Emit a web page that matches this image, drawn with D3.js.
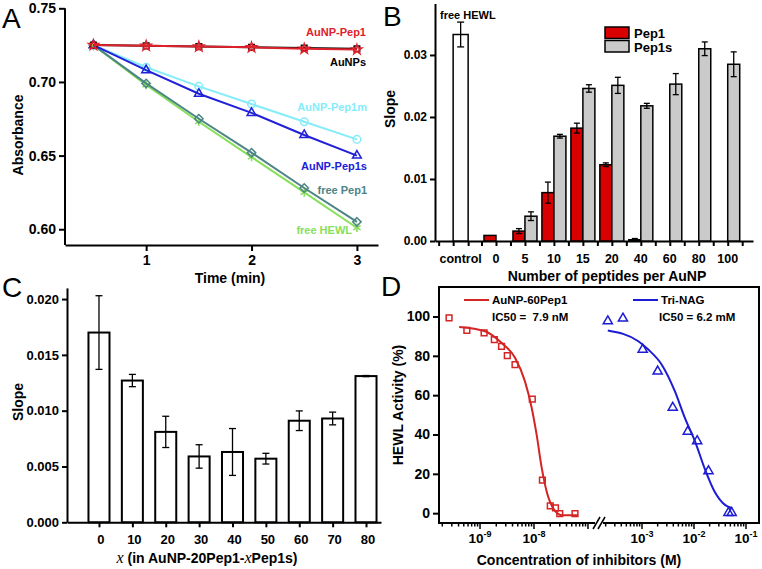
<!DOCTYPE html>
<html><head><meta charset="utf-8">
<script src="https://cdn.jsdelivr.net/npm/d3@7"></script>
<style>
body{margin:0;background:#fff;}
svg{display:block;font-family:"Liberation Sans",Arial,Helvetica,sans-serif;}
</style></head><body>
<svg id="c" width="762" height="569"></svg>
<script>
// ---------- Panel A data ----------
const timeA = [0.5, 1, 1.5, 2, 2.5, 3];
const absAuNPs      = [0.725, 0.7245, 0.724, 0.7235, 0.723, 0.7225];
const absAuNPPep1   = [0.725, 0.7245, 0.724, 0.7235, 0.7225, 0.722];
const absAuNPPep1m  = [0.725, 0.710, 0.697, 0.685, 0.673, 0.661];
const absAuNPPep1s  = [0.725, 0.708, 0.692, 0.679, 0.664, 0.650];
const absFreePep1   = [0.725, 0.699, 0.675, 0.652, 0.628, 0.605];
const absFreeHEWL   = [0.725, 0.698, 0.673, 0.649, 0.625, 0.601];
const ticksAy = [0.60, 0.65, 0.70, 0.75];
const ticksAx = [1, 2, 3];

// ---------- Panel B data ----------
const controlLabel = "control";
const controlSlope = 0.0333, controlErr = 0.0020;
const catsB = ["0", "5", "10", "15", "20", "40", "60", "80", "100"];
const pep1Slope  = [0.0009, 0.0016, 0.0078, 0.0182, 0.0123, 0.0002, null, null, null];
const pep1Err    = [0.0001, 0.0004, 0.0017, 0.0008, 0.0003, 0.0002, null, null, null];
const pep1sSlope = [null, 0.0040, 0.0169, 0.0246, 0.0251, 0.0218, 0.0253, 0.0310, 0.0285];
const pep1sErr   = [null, 0.0007, 0.0003, 0.0006, 0.0013, 0.0004, 0.0017, 0.0011, 0.0020];
const ticksBy = [0, 0.01, 0.02, 0.03];

// ---------- Panel C data ----------
const catsC = ["0", "10", "20", "30", "40", "50", "60", "70", "80"];
const slopeC = [0.0170, 0.0127, 0.0081, 0.0059, 0.0063, 0.0057, 0.0091, 0.0093, 0.0131];
const errC   = [0.0033, 0.00055, 0.0014, 0.00105, 0.0021, 0.00048, 0.00088, 0.00057, 0.00005];
const ticksCy = [0, 0.005, 0.010, 0.015, 0.020];

// ---------- Panel D data ----------
const pepConc = [2.67e-10, 5.7e-10, 1.19e-9, 1.84e-9, 2.5e-9, 3.2e-9, 4.45e-9, 9.3e-9, 1.43e-8, 2.0e-8, 2.5e-8, 3.0e-8, 5.75e-8];
const pepAct  = [99.3, 93, 91.7, 88.3, 84.8, 80.1, 75.5, 58, 16.8, 3.7, 2.7, -0.2, -0.2];
const pepFitConc = [4.1e-10, 1.24e-9, 2.5e-9, 4.45e-9, 6.8e-9, 9.05e-9, 1.12e-8, 1.39e-8, 1.72e-8, 2.28e-8, 3.26e-8, 6.5e-8];
const pepFitAct  = [94.7, 92.5, 86.6, 79, 67, 53.6, 39.8, 23, 10.9, 2.4, -1, -1];
const nagConc = [2.2e-4, 4.3e-4, 1.03e-3, 2.0e-3, 3.9e-3, 7.6e-3, 1.15e-2, 1.9e-2, 4.6e-2, 5.3e-2];
const nagAct  = [97.6, 99, 83.2, 72.1, 53.7, 41.5, 36.7, 21.4, 0.2, 0.2];
const nagFitConc = [2.2e-4, 8.5e-4, 1.32e-3, 2.4e-3, 4.3e-3, 6.7e-3, 1.05e-2, 1.6e-2, 2.5e-2, 4.0e-2, 5.3e-2];
const nagFitAct  = [92.9, 87.4, 83.2, 75.5, 61.9, 48.3, 36.4, 22.8, 10.9, 4.1, 2.7];
const ticksDy = [0, 20, 40, 60, 80, 100];
const majorDleft = [-9, -8];
const majorDright = [-3, -2, -1];

const svg = d3.select("#c");
const BOLD = "bold";

function styleAxis(g, fs) {
  g.select(".domain").attr("stroke", "#000").attr("stroke-width", 2);
  g.selectAll(".tick line").attr("stroke", "#000").attr("stroke-width", 2);
  g.selectAll(".tick text").attr("font-size", fs).attr("font-weight", BOLD).attr("fill", "#000")
    .attr("font-family", "Liberation Sans, Arial, sans-serif");
}
function panelLetter(t, x, y) {
  svg.append("text").attr("x", x).attr("y", y).text(t)
    .attr("font-size", 28).attr("fill", "#000");
}
function yTitle(t, x, y, fs) {
  svg.append("text").attr("transform", `translate(${x},${y}) rotate(-90)`)
    .attr("text-anchor", "middle").attr("font-size", fs).attr("font-weight", BOLD).text(t);
}
function xTitle(t, x, y, fs) {
  return svg.append("text").attr("x", x).attr("y", y)
    .attr("text-anchor", "middle").attr("font-size", fs).attr("font-weight", BOLD).text(t);
}

// ================= Panel A =================
(function () {
  const x = d3.scaleLinear().domain([0.23, 3.2]).range([65, 378]);
  const y = d3.scaleLinear().domain([0.5893, 0.75]).range([245, 8.3]);
  const gA = svg.append("g");
  const ax = gA.append("g").attr("transform", "translate(0,245)")
    .call(d3.axisBottom(x).tickValues(ticksAx).tickFormat(d3.format("d")).tickSize(6).tickSizeOuter(0).tickPadding(4));
  styleAxis(ax, 14);
  const ay = gA.append("g").attr("transform", "translate(65,0)")
    .call(d3.axisLeft(y).tickValues(ticksAy).tickFormat(d3.format(".2f")).tickSize(6).tickSizeOuter(0).tickPadding(3));
  styleAxis(ay, 14);
  ay.select(".domain").attr("d", `M0,${245}V${y(0.75)}`);

  const series = [
    {v: absFreeHEWL, c: "#86e05a", sym: d3.symbolAsterisk, s: 50},
    {v: absFreePep1, c: "#4d8585", sym: d3.symbolDiamond2, s: 45},
    {v: absAuNPPep1m, c: "#86ecfa", sym: d3.symbolCircle, s: 45},
    {v: absAuNPPep1s, c: "#2020d8", sym: d3.symbolTriangle2, s: 55},
    {v: absAuNPs, c: "#111111", sym: d3.symbolSquare2, s: 40},
    {v: absAuNPPep1, c: "#e0202a", sym: d3.symbolStar, s: 30}
  ];
  const line = d3.line().x((d, i) => x(timeA[i])).y(d => y(d));
  series.forEach(s => {
    gA.append("path").datum(s.v).attr("d", line).attr("fill", "none")
      .attr("stroke", s.c).attr("stroke-width", 2);
    gA.selectAll(null).data(s.v).join("path")
      .attr("transform", (d, i) => `translate(${x(timeA[i])},${y(d)})`)
      .attr("d", d3.symbol(s.sym, s.s)).attr("fill", "none")
      .attr("stroke", s.c).attr("stroke-width", 1.5);
  });
  const labs = [
    ["AuNP-Pep1", "#e0202a", 0.7315, 366],
    ["AuNPs", "#000", 0.7111, 366],
    ["AuNP-Pep1m", "#86ecfa", 0.6805, 367],
    ["AuNP-Pep1s", "#2020d8", 0.640, 367],
    ["free Pep1", "#4d8585", 0.6237, 367],
    ["free HEWL", "#86e05a", 0.5965, 352]
  ];
  labs.forEach(l => gA.append("text").attr("x", l[3]).attr("y", y(l[2]))
    .attr("text-anchor", "end").attr("font-size", 11).attr("font-weight", BOLD)
    .attr("fill", l[1]).text(l[0]));
  yTitle("Absorbance", 23, 135, 14);
  xTitle("Time (min)", 230, 283, 14);
  panelLetter("A", 2, 28);
})();

// ================= Panel B =================
(function () {
  const y = d3.scaleLinear().domain([0, 0.0383]).range([241, 3.5]);
  const xb = d3.scaleBand().domain(catsB).range([481.5, 742.2]);
  const step = xb.step();
  const bw = 12;
  const g = svg.append("g");
  const cx = xb("0") + step / 2 - step * 1.22;
  const ay = g.append("g").attr("transform", "translate(435,0)")
    .call(d3.axisLeft(y).tickValues(ticksBy).tickFormat(d3.format(".2f")).tickSize(5).tickSizeOuter(0).tickPadding(3));
  styleAxis(ay, 12);
  const tickPos = [cx - 22, cx - 7.5, cx + 7.5];
  catsB.forEach(c => { const m = xb(c) + step / 2; tickPos.push(m - step / 2, m); });
  tickPos.push(xb("100") + step);
  const xLin = d3.scaleLinear().domain([435, 753]).range([435, 753]);
  const axb = g.append("g").attr("transform", "translate(0,241)")
    .call(d3.axisBottom(xLin).tickValues(tickPos).tickFormat("").tickSize(5).tickSizeOuter(0));
  styleAxis(axb, 12);
  g.append("text").attr("x", cx).attr("y", 263).attr("text-anchor", "middle")
    .attr("font-size", 12.5).attr("font-weight", BOLD).text(controlLabel);
  catsB.forEach(c => g.append("text").attr("x", xb(c) + step / 2).attr("y", 263)
    .attr("text-anchor", "middle").attr("font-size", 12.5).attr("font-weight", BOLD).text(c));

  function errBar(xc, v, e, cap) {
    g.append("line").attr("x1", xc).attr("x2", xc).attr("y1", y(v - e)).attr("y2", y(v + e))
      .attr("stroke", "#000").attr("stroke-width", 1.3);
    [v - e, v + e].forEach(t => g.append("line").attr("x1", xc - cap).attr("x2", xc + cap)
      .attr("y1", y(t)).attr("y2", y(t)).attr("stroke", "#000").attr("stroke-width", 1.3));
  }
  g.append("rect").attr("x", cx - 7.5).attr("width", 15).attr("y", y(controlSlope))
    .attr("height", y(0) - y(controlSlope)).attr("fill", "#fff").attr("stroke", "#000").attr("stroke-width", 1.5);
  errBar(cx, controlSlope, controlErr, 3.5);
  catsB.forEach((c, i) => {
    const m = xb(c) + step / 2;
    if (pep1Slope[i] != null) {
      g.append("rect").attr("x", m - bw).attr("width", bw).attr("y", y(pep1Slope[i]))
        .attr("height", y(0) - y(pep1Slope[i])).attr("fill", "#d80000").attr("stroke", "#000").attr("stroke-width", 1.5);
      if (pep1Err[i] > 0.00015) errBar(m - bw / 2, pep1Slope[i], pep1Err[i], 3);
    }
    if (pep1sSlope[i] != null) {
      g.append("rect").attr("x", m).attr("width", bw).attr("y", y(pep1sSlope[i]))
        .attr("height", y(0) - y(pep1sSlope[i])).attr("fill", "#cacaca").attr("stroke", "#000").attr("stroke-width", 1.5);
      errBar(m + bw / 2, pep1sSlope[i], pep1sErr[i], 3);
    }
  });
  [["Pep1", "#d80000", 27], ["Pep1s", "#cacaca", 40.5]].forEach(l => {
    g.append("rect").attr("x", 605).attr("y", l[2]).attr("width", 24).attr("height", 11.5)
      .attr("fill", l[1]).attr("stroke", "#000").attr("stroke-width", 1.5);
    g.append("text").attr("x", 634).attr("y", l[2] + 11).attr("font-size", 13).attr("font-weight", BOLD).text(l[0]);
  });
  g.append("text").attr("x", 440).attr("y", 19).attr("font-size", 11).attr("font-weight", BOLD).text("free HEWL");
  yTitle("Slope", 395, 109, 14);
  xTitle("Number of peptides per AuNP", 607, 281, 14);
  panelLetter("B", 383, 26);
})();

// ================= Panel C =================
(function () {
  const y = d3.scaleLinear().domain([0, 0.021]).range([522.3, 287.9]);
  const x = d3.scaleBand().domain(catsC).range([82.3, 382.7]).paddingInner(0.37).paddingOuter(0.185);
  const g = svg.append("g");
  const ay = g.append("g").attr("transform", "translate(67,0)")
    .call(d3.axisLeft(y).tickValues(ticksCy).tickFormat(d3.format(".3f")).tickSize(5).tickSizeOuter(0).tickPadding(3));
  styleAxis(ay, 13);
  catsC.forEach((c, i) => {
    const v = slopeC[i], e = errC[i], xc = x(c) + x.bandwidth() / 2;
    g.append("rect").attr("x", x(c)).attr("width", x.bandwidth()).attr("y", y(v))
      .attr("height", y(0) - y(v)).attr("fill", "#fff").attr("stroke", "#000").attr("stroke-width", 2);
    g.append("line").attr("x1", xc).attr("x2", xc).attr("y1", y(v - e)).attr("y2", y(v + e))
      .attr("stroke", "#000").attr("stroke-width", 1.3);
    [v - e, v + e].forEach(t => g.append("line").attr("x1", xc - 3.5).attr("x2", xc + 3.5)
      .attr("y1", y(t)).attr("y2", y(t)).attr("stroke", "#000").attr("stroke-width", 1.3));
  });
  const xLin = d3.scaleLinear().domain([67, 381]).range([67, 381]);
  const axc = g.append("g").attr("transform", "translate(0,522.3)")
    .call(d3.axisBottom(xLin).tickValues(catsC.map(c => x(c) + x.bandwidth() / 2)).tickFormat("").tickSize(5).tickSizeOuter(0));
  styleAxis(axc, 13);
  catsC.forEach(c => g.append("text").attr("x", x(c) + x.bandwidth() / 2 + 2).attr("y", 544)
    .attr("text-anchor", "middle").attr("font-size", 13).attr("font-weight", BOLD).text(c));
  yTitle("Slope", 23, 402, 14);
  const t = xTitle("", 207, 563, 14);
  t.append("tspan").attr("font-family", "Liberation Serif, Times New Roman, serif").attr("font-style", "italic").attr("font-weight", "normal").attr("font-size", 16).text("x");
  t.append("tspan").text(" (in AuNP-20Pep1-");
  t.append("tspan").attr("font-family", "Liberation Serif, Times New Roman, serif").attr("font-style", "italic").attr("font-weight", "normal").attr("font-size", 16).text("x");
  t.append("tspan").text("Pep1s)");
  panelLetter("C", 2, 297);
})();

// ================= Panel D =================
(function () {
  const y = d3.scaleLinear().domain([-5, 115]).range([523, 287]);
  const xl = d3.scaleLog().domain([Math.pow(10, -9.76), Math.pow(10, -6.87)]).range([439, 595]);
  const xr = d3.scaleLog().domain([Math.pow(10, -3.75), Math.pow(10, -0.75)]).range([603, 759]);
  const g = svg.append("g");
  const red = "#d42424", blue = "#1c1cd4";
  g.append("rect").attr("x", 439).attr("y", 287).attr("width", 320).attr("height", 236)
    .attr("fill", "none").attr("stroke", "#000").attr("stroke-width", 2);
  const ay = g.append("g").attr("transform", "translate(439,0)")
    .call(d3.axisLeft(y).tickValues(ticksDy).tickSize(6).tickSizeOuter(0).tickPadding(3));
  styleAxis(ay, 14);
  ay.select(".domain").remove();
  function logTicks(sc) {
    const [a, b] = sc.domain();
    const out = [];
    for (let e = Math.floor(Math.log10(a)); e <= Math.ceil(Math.log10(b)); e++) {
      for (let k = 1; k <= 9; k++) {
        const v = k * Math.pow(10, e);
        if (v >= a && v <= b) out.push({v, major: k === 1, e});
      }
    }
    return out;
  }
  g.append("rect").attr("x", 595).attr("y", 518).attr("width", 8).attr("height", 10).attr("fill", "#fff");
  [[xl, majorDleft], [xr, majorDright]].forEach(([sc, majors]) => {
    const [r0, r1] = sc.range();
    g.append("line").attr("x1", r0).attr("x2", r1).attr("y1", 523).attr("y2", 523)
      .attr("stroke", "#000").attr("stroke-width", 2);
    logTicks(sc).forEach(t => {
      g.append("line").attr("x1", sc(t.v)).attr("x2", sc(t.v)).attr("y1", 523)
        .attr("y2", 523 + (t.major ? 6 : 3.5)).attr("stroke", "#000").attr("stroke-width", 1.5);
      if (t.major && majors.includes(t.e)) {
        const tx = g.append("text").attr("x", sc(t.v)).attr("y", 543).attr("text-anchor", "middle")
          .attr("font-size", 13.5).attr("font-weight", BOLD);
        tx.append("tspan").text("10");
        tx.append("tspan").attr("font-size", 9).attr("dy", -6).text(String(t.e));
      }
    });
  });
  [595, 600].forEach(bx => g.append("line").attr("x1", bx - 2).attr("y1", 529).attr("x2", bx + 5).attr("y2", 517)
    .attr("stroke", "#000").attr("stroke-width", 1.5));
  const lineL = d3.line().x((d, i) => xl(pepFitConc[i])).y(d => y(d)).curve(d3.curveMonotoneX);
  const lineR = d3.line().x((d, i) => xr(nagFitConc[i])).y(d => y(d)).curve(d3.curveMonotoneX);
  g.append("path").datum(pepFitAct).attr("d", lineL).attr("fill", "none").attr("stroke", red).attr("stroke-width", 2);
  g.append("path").datum(nagFitAct).attr("d", lineR).attr("fill", "none").attr("stroke", blue).attr("stroke-width", 2);
  g.selectAll(null).data(pepAct).join("path")
    .attr("transform", (d, i) => `translate(${xl(pepConc[i])},${y(d)})`)
    .attr("d", d3.symbol(d3.symbolSquare2, 42)).attr("fill", "none").attr("stroke", red).attr("stroke-width", 1.5);
  g.selectAll(null).data(nagAct).join("path")
    .attr("transform", (d, i) => `translate(${xr(nagConc[i])},${y(d)})`)
    .attr("d", d3.symbol(d3.symbolTriangle2, 60)).attr("fill", "none").attr("stroke", blue).attr("stroke-width", 1.5);
  g.append("line").attr("x1", 464).attr("x2", 489).attr("y1", 300).attr("y2", 300).attr("stroke", red).attr("stroke-width", 2);
  g.append("text").attr("x", 492).attr("y", 304).attr("font-size", 11.5).attr("font-weight", BOLD).text("AuNP-60Pep1");
  g.append("text").attr("x", 492).attr("y", 321).attr("font-size", 11.5).attr("font-weight", BOLD).attr("xml:space", "preserve").text("IC50 =  7.9 nM");
  g.append("line").attr("x1", 633).attr("x2", 658).attr("y1", 300).attr("y2", 300).attr("stroke", blue).attr("stroke-width", 2);
  g.append("text").attr("x", 661).attr("y", 304).attr("font-size", 11.5).attr("font-weight", BOLD).text("Tri-NAG");
  g.append("text").attr("x", 659).attr("y", 321).attr("font-size", 11.5).attr("font-weight", BOLD).text("IC50 = 6.2 mM");
  yTitle("HEWL Activity (%)", 403, 405, 14);
  xTitle("Concentration of inhibitors (M)", 579, 565, 14);
  panelLetter("D", 381, 296);
})();
</script>
</body></html>
